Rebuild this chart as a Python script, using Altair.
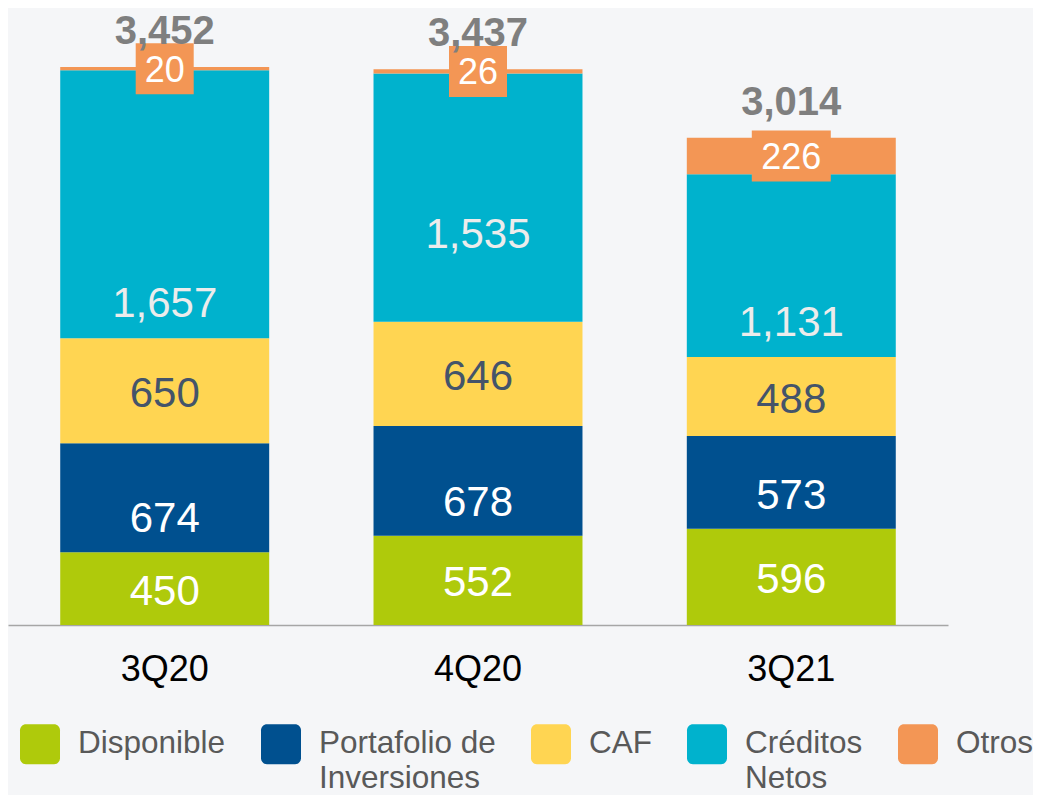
import altair as alt
import pandas as pd

# ---- data ----
quarters = ["3Q20", "4Q20", "3Q21"]
series = ["Disponible", "Portafolio de Inversiones", "CAF", "Créditos Netos", "Otros"]
disponible = [450, 552, 596]
portafolio = [674, 678, 573]
caf = [650, 646, 488]
creditos = [1657, 1535, 1131]
otros = [20, 26, 226]
totals = [3452, 3437, 3014]

# ---- style ----
FONT = "Liberation Sans"
bar_colors = ["#afca0b", "#00508f", "#ffd552", "#00b2cd", "#f39655"]

values = {
    "Disponible": disponible,
    "Portafolio de Inversiones": portafolio,
    "CAF": caf,
    "Créditos Netos": creditos,
    "Otros": otros,
}

rows = []
for qi, q in enumerate(quarters):
    base = 0
    for si, s in enumerate(series):
        v = values[s][qi]
        rows.append(dict(quarter=q, series=s, value=v, start=base, end=base + v,
                         mid=base + v / 2, label=f"{v:,}", order=si))
        base += v
df = pd.DataFrame(rows)
tot = pd.DataFrame({
    "quarter": quarters,
    "top": [df[df.quarter == q].end.max() for q in quarters],
    "label": [f"{t:,}" for t in totals],
})

X = alt.X(
    "quarter:N", sort=quarters, title=None,
    scale=alt.Scale(paddingInner=0.333, paddingOuter=0.1667),
    axis=alt.Axis(labelAngle=0, labelFontSize=36, labelColor="#000000", labelFont=FONT,
                  ticks=False, labelPadding=27, domainColor="#a6a6a6", domainWidth=1.5,
                  grid=False),
)
YSCALE = alt.Scale(domain=[0, 3816])

legend_symbol = ("M-0.7,-1H0.7A0.3,0.3,0,0,1,1,-0.7V0.7A0.3,0.3,0,0,1,0.7,1H-0.7"
                 "A0.3,0.3,0,0,1,-1,0.7V-0.7A0.3,0.3,0,0,1,-0.7,-1Z")

bars = alt.Chart(df).mark_bar().encode(
    x=X,
    y=alt.Y("end:Q", scale=YSCALE, axis=None),
    y2="start:Q",
    color=alt.Color(
        "series:N",
        scale=alt.Scale(domain=series, range=bar_colors),
        legend=alt.Legend(
            orient="none", legendX=12, legendY=716, direction="horizontal", title=None,
            symbolType=legend_symbol, symbolSize=1600, symbolStrokeWidth=0, symbolOpacity=1,
            labelFontSize=31.5, labelFont=FONT, labelColor="#595959", labelOffset=18,
            labelLimit=0, columnPadding=35, padding=0,
            labelExpr="datum.label == 'Portafolio de Inversiones' ? ['Portafolio de', 'Inversiones'] : "
                      "datum.label == 'Créditos Netos' ? ['Créditos', 'Netos'] : [datum.label, '']",
        ),
        sort=series,
    ),
)


def seg_text(filt, color, yfield, dy, size=42, src=df):
    return alt.Chart(src).transform_filter(filt).mark_text(
        fontSize=size, color=color, baseline="middle", dy=dy, font=FONT
    ).encode(x=X, y=alt.Y(f"{yfield}:Q", scale=YSCALE, axis=None), text="label:N")


t_disp = seg_text("datum.series == 'Disponible'", "#ffffff", "mid", 3)
t_caf = seg_text("datum.series == 'CAF'", "#44546a", "mid", 3)
t_port = seg_text("datum.series == 'Portafolio de Inversiones'", "#ffffff", "start", -33)
t_cred = seg_text("datum.series == 'Créditos Netos' && datum.quarter != '4Q20'", "#ececec", "start", -34)
t_cred2 = seg_text("datum.series == 'Créditos Netos' && datum.quarter == '4Q20'", "#ececec", "start", -87)


def otros_box(filt, w):
    return alt.Chart(df).transform_filter(filt).mark_bar(
        width=w, yOffset=-25.5, y2Offset=25.5, color=bar_colors[4]
    ).encode(x=X, y=alt.Y("mid:Q", scale=YSCALE, axis=None), y2="mid:Q")


box2 = otros_box("datum.series == 'Otros' && length(datum.label) <= 2", 58)
box3 = otros_box("datum.series == 'Otros' && length(datum.label) >= 3", 79)
t_otros = seg_text("datum.series == 'Otros'", "#ffffff", "mid", 2, size=36)

t_tot = alt.Chart(tot).mark_text(
    fontSize=40, fontWeight="bold", color="#7f7f7f", baseline="alphabetic", dy=-23, font=FONT
).encode(x=X, y=alt.Y("top:Q", scale=YSCALE, axis=None), text="label:N")

chart = alt.layer(
    bars, t_disp, t_caf, t_port, t_cred, t_cred2, box2, box3, t_otros, t_tot
).properties(
    width=940, height=617,
    autosize=alt.AutoSizeParams(type="none"),
    padding={"left": 0, "top": 0, "right": 85, "bottom": 170},
    background="#f5f6f8",
).configure(
    font=FONT,
    view=alt.ViewConfig(stroke=None),
    style={"guide-label": {"lineHeight": 35}},
)

chart.save("out.html", embed_options={"renderer": "svg", "actions": False})
